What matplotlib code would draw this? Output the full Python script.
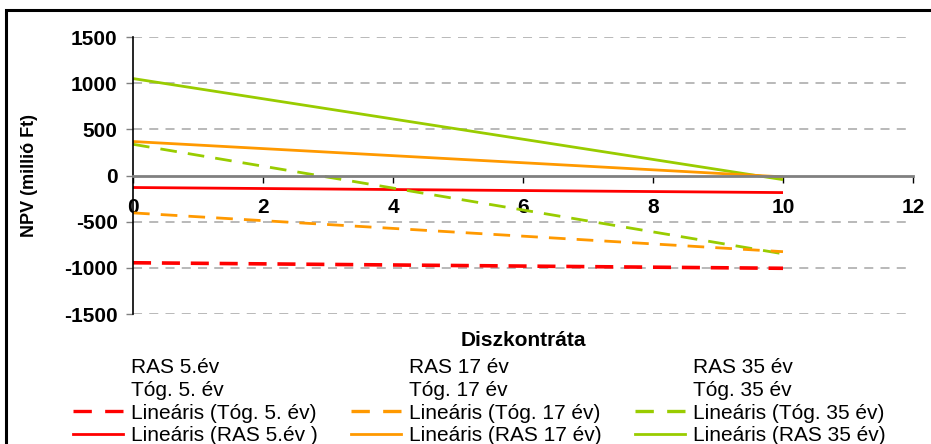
import matplotlib
matplotlib.use('Agg')
import matplotlib.pyplot as plt
from matplotlib.lines import Line2D
from matplotlib.patches import Rectangle

plt.rcParams['font.family'] = ['Liberation Sans', 'DejaVu Sans']
plt.rcParams['axes.unicode_minus'] = False

# discount rate endpoints of the linear trend lines
rate = [0, 10]

# NPV (million Ft)
ras5 = [-130, -185]
ras17 = [368, -15]
ras35 = [1050, -45]
tog5 = [-945, -1005]
tog17 = [-405, -825]
tog35 = [338, -848]

red = '#ff0000'
orange = '#ff9900'
green = '#99cc00'

fig = plt.figure(figsize=(9.31, 4.44), dpi=100)
ax = fig.add_axes([133/931, 1-314/444, (913-133)/931, (314-37)/444])

ax.plot(rate, ras35, color=green, lw=2, solid_capstyle='butt')
ax.plot(rate, ras17, color=orange, lw=2, solid_capstyle='butt')
ax.plot(rate, ras5, color=red, lw=2, solid_capstyle='butt')
ax.plot(rate, tog35, color=green, lw=2, ls=(0, (6, 4)))
ax.plot(rate, tog17, color=orange, lw=2, ls=(0, (6, 4)))
ax.plot(rate, tog5, color=red, lw=2.6, ls=(0, (5, 3)))

ax.set_xlim(0, 12)
ax.set_ylim(-1500, 1500)
ax.set_xticks(range(0, 13, 2))
ax.set_yticks(range(-1500, 1501, 500))

for yv in [-1500, -1000, -500, 500, 1000, 1500]:
    ax.axhline(yv, color='#b3b3b3', lw=1.3, ls=(0, (5, 4)), zorder=0)

ax.spines['top'].set_visible(False)
ax.spines['right'].set_visible(False)
ax.spines['bottom'].set_position(('data', 0))
ax.spines['bottom'].set_color('#808080')
ax.spines['bottom'].set_linewidth(2)
ax.spines['left'].set_color('black')
ax.spines['left'].set_linewidth(1.2)

ax.tick_params(axis='x', direction='out', length=5, width=1, color='black', pad=11)
ax.tick_params(axis='y', direction='out', length=5, width=1, color='#808080', pad=6)
for lab in ax.get_xticklabels() + ax.get_yticklabels():
    lab.set_fontsize(15)
    lab.set_fontweight('bold')

ax.set_xlabel('Diszkontráta', fontsize=15, fontweight='bold')
ax.xaxis.set_label_coords(0.5, -0.06)
fig.text(30/931, 1-175/444, 'NPV (millió Ft)', rotation=90, fontsize=13,
         fontweight='bold', ha='center', va='center')

blank = lambda: Line2D([], [], linestyle='none')
handles = [
    blank(), blank(),
    Line2D([], [], color=red, lw=2.4, ls=(0, (5.5, 4))),
    Line2D([], [], color=red, lw=2),
    blank(), blank(),
    Line2D([], [], color=orange, lw=2.4, ls=(0, (5.5, 4))),
    Line2D([], [], color=orange, lw=2),
    blank(), blank(),
    Line2D([], [], color=green, lw=2.4, ls=(0, (5.5, 4))),
    Line2D([], [], color=green, lw=2),
]
labels = [
    'RAS 5.év', 'Tóg. 5. év', 'Lineáris (Tóg. 5. év)', 'Lineáris (RAS 5.év )',
    'RAS 17 év', 'Tóg. 17 év', 'Lineáris (Tóg. 17 év)', 'Lineáris (RAS 17 év)',
    'RAS 35 év', 'Tóg. 35 év', 'Lineáris (Tóg. 35 év)', 'Lineáris (RAS 35 év)',
]
fig.legend(handles, labels, ncol=3, loc='upper left',
           bbox_to_anchor=(73/931, 1-358/444), frameon=False, fontsize=15,
           handlelength=2.4, handletextpad=0.38, columnspacing=1.6,
           labelspacing=0.18, borderpad=0, borderaxespad=0)

fig.patches.append(Rectangle((6/931, -0.1), 1.1, 1-10/444+0.1, transform=fig.transFigure,
                             fill=False, edgecolor='black', lw=2.2))

fig.savefig('out.png', dpi=100)
